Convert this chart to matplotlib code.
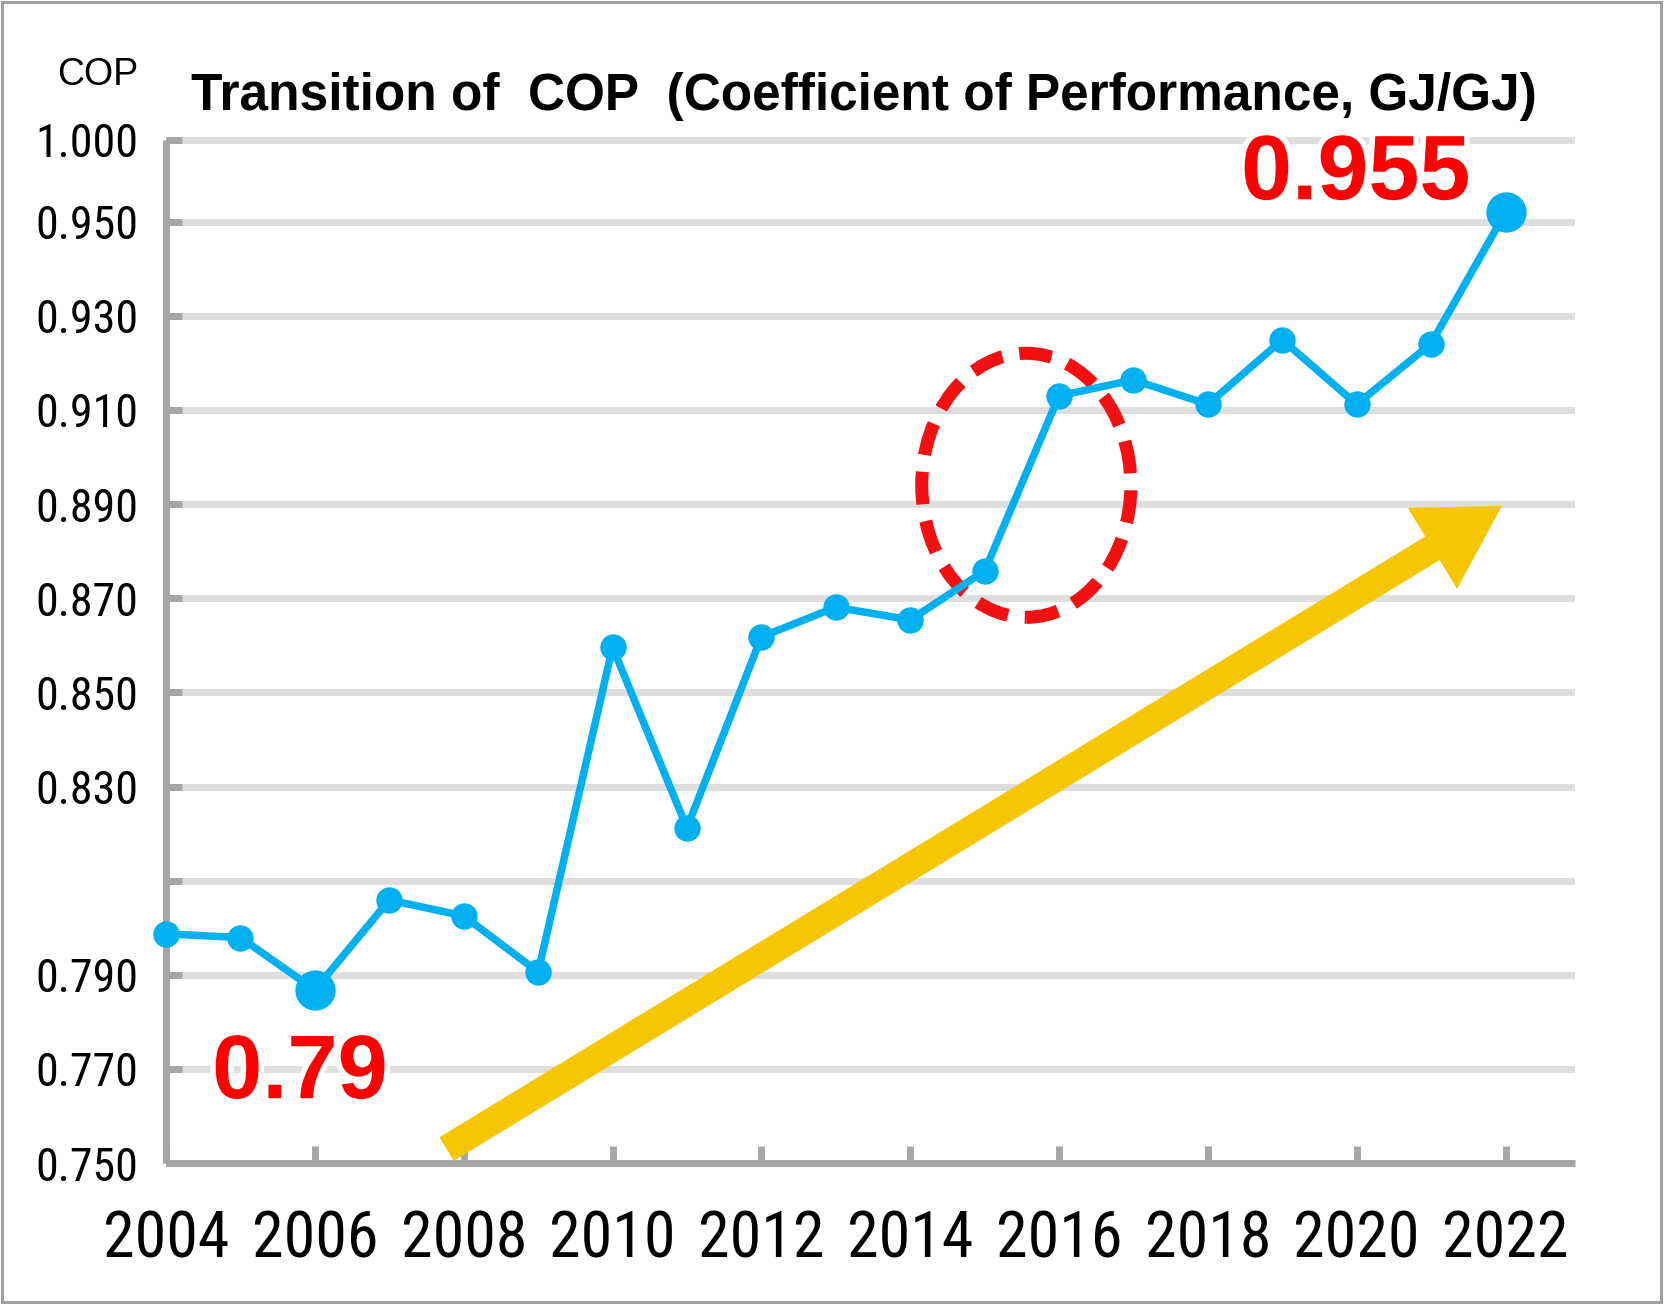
import matplotlib
matplotlib.use('Agg')
import matplotlib.pyplot as plt
from matplotlib import font_manager as fm
from matplotlib.patches import Ellipse, FancyArrowPatch, Rectangle
import matplotlib.patheffects as pe

# ---------------- data ----------------
years = list(range(2004, 2023))
cop = [0.7987, 0.7979, 0.7868, 0.8059, 0.8025, 0.7906, 0.8596, 0.8212,
       0.8618, 0.8681, 0.8654, 0.8758, 0.9130, 0.9164, 0.9112, 0.9249,
       0.9112, 0.9241, 0.9520]
highlight_years = [2006, 2022]
highlight_labels = ['0.79', '0.955']
ytick_values = [0.750, 0.770, 0.790, 0.810, 0.830, 0.850, 0.870, 0.890,
                0.910, 0.930, 0.950, 0.9674]
ytick_labels = ['0.750', '0.770', '0.790', '', '0.830', '0.850', '0.870',
                '0.890', '0.910', '0.930', '0.950', '1.000']
xtick_years = list(range(2004, 2023, 2))
title = 'Transition of  COP  (Coefficient of Performance, GJ/GJ)'
ylabel = 'COP'

# ---------------- fonts ----------------
SANS = 'Liberation Sans'


def find_condensed():
    pref = ['liberation sans narrow', 'roboto condensed', 'open sans condensed',
            'noto sans', 'dejavu sans', 'open sans', 'roboto']
    found = []
    for f in fm.fontManager.ttflist:
        n = f.name.lower()
        st = str(f.stretch).lower()
        fn = f.fname.lower()
        is_cond = ('narrow' in n or 'condensed' in n or 'condensed' in st
                   or 'narrow' in fn or 'condensed' in fn)
        if not is_cond or 'semi' in st or 'semi' in fn or 'extra' in fn or 'ultra' in fn:
            continue
        try:
            w = int(f.weight)
        except Exception:
            w = 400 if str(f.weight) in ('normal', 'regular') else 700
        if w != 400 or f.style != 'normal':
            continue
        rank = len(pref)
        for i, p in enumerate(pref):
            if n.startswith(p):
                rank = i
                break
        found.append((rank, f.fname))
    if found:
        found.sort()
        return fm.FontProperties(fname=found[0][1])
    return None


cond = find_condensed()
if cond is not None:
    yfp = cond.copy(); yfp.set_size(33)
    xfp = cond.copy(); xfp.set_size(46)
else:
    yfp = fm.FontProperties(family=SANS, size=32)
    xfp = fm.FontProperties(family=SANS, size=42)

BLUE = '#00b0f0'
RED = '#ff0000'
GRID = '#dedede'
AXIS = '#a6a6a6'
GOLD = '#f6c700'

fig = plt.figure(figsize=(16.64, 13.04), dpi=100)
fig.patch.set_facecolor('white')
ax = fig.add_axes([0.0998, 0.1081, 0.9468 - 0.0998, 0.80126])
ax.set_xlim(2004, 2022.94)
ax.set_ylim(0.75, 0.972)

for s in ['top', 'right']:
    ax.spines[s].set_visible(False)
for s in ['left', 'bottom']:
    ax.spines[s].set_color(AXIS)
    ax.spines[s].set_linewidth(5)
    ax.spines[s].set_capstyle('butt')
ax.spines['left'].set_bounds(ytick_values[0], ytick_values[-1])

ax.set_yticks(ytick_values)
ax.set_yticklabels(ytick_labels)
ax.set_xticks(xtick_years)
ax.set_xticklabels([str(y) for y in xtick_years])
for lab in ax.get_yticklabels():
    lab.set_fontproperties(yfp)
for lab in ax.get_xticklabels():
    lab.set_fontproperties(xfp)
ax.tick_params(axis='y', direction='in', length=11.5, width=5, color=AXIS, pad=20)
ax.tick_params(axis='x', direction='in', length=12, width=5, color=AXIS, pad=33)
ax.set_axisbelow(True)
ax.yaxis.grid(True, color=GRID, linewidth=5)
ax.xaxis.grid(False)

# yellow trend arrow
arrow = FancyArrowPatch(posA=(2007.77, 0.75297), posB=(2021.95, 0.8896),
                        arrowstyle='simple,head_length=58.5,head_width=68.3,tail_width=19.9',
                        mutation_scale=1, color=GOLD, lw=0, shrinkA=0, shrinkB=0,
                        clip_on=False, zorder=3)
ax.add_patch(arrow)

# red dashed ellipse
ell = Ellipse((2015.56, 0.8940), 2.81, 0.0561, fill=False, edgecolor='#f21010',
              linewidth=9.4, linestyle=(0, (2.5, 1.3)), zorder=3.5, clip_on=False)
ax.add_patch(ell)

# data line
ax.plot(years, cop, color=BLUE, linewidth=5.4, marker='o', markersize=19,
        markeredgewidth=0, zorder=4, clip_on=False)
hx = [y for y in years if y in highlight_years]
hy = [c for y, c in zip(years, cop) if y in highlight_years]
ax.plot(hx, hy, linestyle='none', marker='o', markersize=29, color=BLUE,
        markeredgewidth=0, zorder=4.5, clip_on=False)

offsets = [(-10.7, -78), (-108, 9.4)]
sizes = [65, 66]
for x, y, lab, off, fs in zip(hx, hy, highlight_labels, offsets, sizes):
    ax.annotate(lab, xy=(x, y), xytext=off, textcoords='offset points',
                ha='center', va='baseline', color=RED, fontsize=fs,
                fontfamily=SANS, fontweight='bold', zorder=6,
                path_effects=[pe.withStroke(linewidth=8, foreground='white')])

# titles
fig.text(0.519, 0.9156, title, ha='center', va='baseline', fontsize=37,
         fontweight='bold', fontfamily=SANS, color='black')
fig.text(0.0587, 0.9348, ylabel, ha='center', va='baseline', fontsize=27,
         fontfamily=SANS, color='black')

# outer frame
fig.patches.append(Rectangle((0.0012, 0.0015), 0.9970, 0.9970, transform=fig.transFigure,
                             fill=False, edgecolor='#a0a0a0', linewidth=2.2))

fig.savefig('out.png', dpi=100, facecolor='white')
